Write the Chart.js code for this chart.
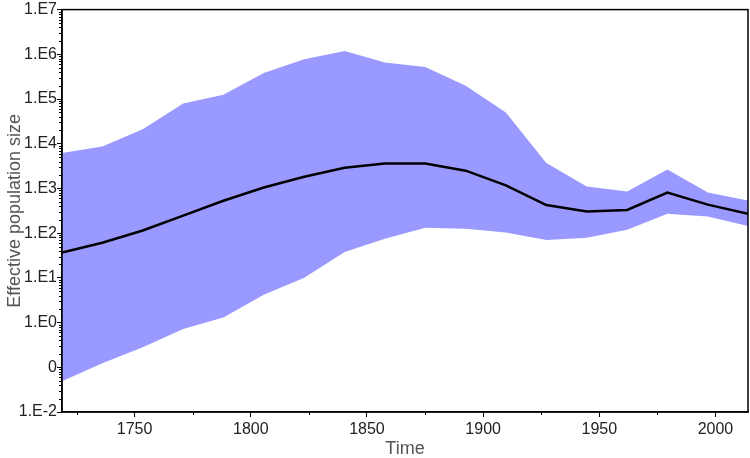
<!DOCTYPE html>
<html>
<head>
<meta charset="utf-8">
<script src="https://cdn.jsdelivr.net/npm/chart.js@4"></script>
<style>
  html, body { margin: 0; padding: 0; background: #fff; }
  #wrap { width: 750px; height: 458px; }
</style>
</head>
<body>
<div id="wrap"><canvas id="skyline" width="750" height="458"></canvas></div>
<script>
// sample times (years), evenly spaced over the plotted period
const times = [1718.75, 1736.1, 1753.5, 1770.9, 1788.2, 1805.6, 1823.0, 1840.4, 1857.7,
               1875.1, 1892.5, 1909.8, 1927.2, 1944.6, 1962.0, 1979.3, 1996.7, 2014.0];
// median effective population size
const median = [37, 61, 115, 247, 530, 1050, 1820, 2900, 3600,
                3600, 2500, 1170, 425, 304, 330, 810, 435, 270];
// 95% HPD upper bound
const upper = [6200, 8700, 21000, 79000, 125000, 380000, 780000, 1180000, 660000,
               520000, 197000, 50000, 3700, 1100, 850, 2650, 810, 535];
// 95% HPD lower bound
const lower = [0.049, 0.123, 0.28, 0.72, 1.3, 4.2, 10, 38, 75,
               132, 126, 103, 70, 79, 119, 270, 236, 144];
const xTicks = [1750, 1800, 1850, 1900, 1950, 2000];
const yTicks = [1e-2, 1e-1, 1e0, 1e1, 1e2, 1e3, 1e4, 1e5, 1e6, 1e7];
const yTickLabels = ['1.E-2', '0', '1.E0', '1.E1', '1.E2', '1.E3', '1.E4', '1.E5', '1.E6', '1.E7'];

const pts = arr => times.map((t, i) => ({ x: t, y: arr[i] }));

// frame + minor ticks
const framePlugin = {
    id: 'frame',
    afterDraw(chart) {
        const { ctx, chartArea: a, scales } = chart;
        ctx.save();
        ctx.strokeStyle = '#000';
        ctx.lineWidth = 1.5;
        ctx.strokeRect(a.left, a.top, a.right - a.left, a.bottom - a.top);
        ctx.lineWidth = 1;
        ctx.beginPath();
        for (let k = -2; k < 7; k++) {
            for (let m = 2; m < 10; m++) {
                const py = Math.round(scales.y.getPixelForValue(m * Math.pow(10, k))) + 0.5;
                ctx.moveTo(a.left - 3, py);
                ctx.lineTo(a.left, py);
            }
        }
        for (let v = 1725; v < 2014; v += 50) {
            const px = Math.round(scales.x.getPixelForValue(v)) + 0.5;
            ctx.moveTo(px, a.bottom);
            ctx.lineTo(px, a.bottom + 3);
        }
        ctx.stroke();
        ctx.restore();
    }
};

const ctx = document.getElementById('skyline').getContext('2d');
new Chart(ctx, {
    type: 'line',
    data: {
        datasets: [
            { label: 'median', data: pts(median), borderColor: '#000', borderWidth: 2.5,
              pointRadius: 0, fill: false, tension: 0, order: 0 },
            { label: 'upper', data: pts(upper), borderWidth: 0, borderColor: 'rgba(0,0,0,0)',
              backgroundColor: '#9999ff', pointRadius: 0, fill: '+1', tension: 0, order: 1 },
            { label: 'lower', data: pts(lower), borderWidth: 0, borderColor: 'rgba(0,0,0,0)',
              pointRadius: 0, fill: false, tension: 0, order: 2 }
        ]
    },
    options: {
        responsive: false,
        animation: false,
        layout: { padding: { left: 0, right: 2, top: 5, bottom: 0 } },
        plugins: { legend: { display: false }, tooltip: { enabled: false } },
        scales: {
            x: {
                type: 'linear',
                min: 1718.75,
                max: 2014,
                afterBuildTicks: s => { s.ticks = xTicks.map(v => ({ value: v })); },
                afterFit: s => { s.height = 46; },
                grid: { drawOnChartArea: false, tickLength: 5, tickColor: '#000' },
                border: { color: '#000', width: 1.5 },
                ticks: { color: '#222', font: { family: 'Liberation Sans', size: 16 },
                         padding: 3, maxRotation: 0, callback: v => String(v) },
                title: { display: true, text: 'Time', color: '#555', align: 'center',
                         font: { family: 'Liberation Sans', size: 18 }, padding: { top: 0, bottom: -2 } }
            },
            y: {
                type: 'logarithmic',
                min: 1e-2,
                max: 1e7,
                afterBuildTicks: s => { s.ticks = yTicks.map(v => ({ value: v })); },
                afterFit: s => { s.width = 62; },
                grid: { drawOnChartArea: false, tickLength: 5, tickColor: '#000' },
                border: { color: '#000', width: 1.5 },
                ticks: { color: '#222', font: { family: 'Liberation Sans', size: 16 }, padding: 0,
                         callback: v => { const i = yTicks.indexOf(v); return i >= 0 ? yTickLabels[i] : ''; } },
                title: { display: true, text: 'Effective population size', color: '#555',
                         font: { family: 'Liberation Sans', size: 18 }, padding: { bottom: 0 } }
            }
        }
    },
    plugins: [framePlugin]
});
</script>
</body>
</html>
